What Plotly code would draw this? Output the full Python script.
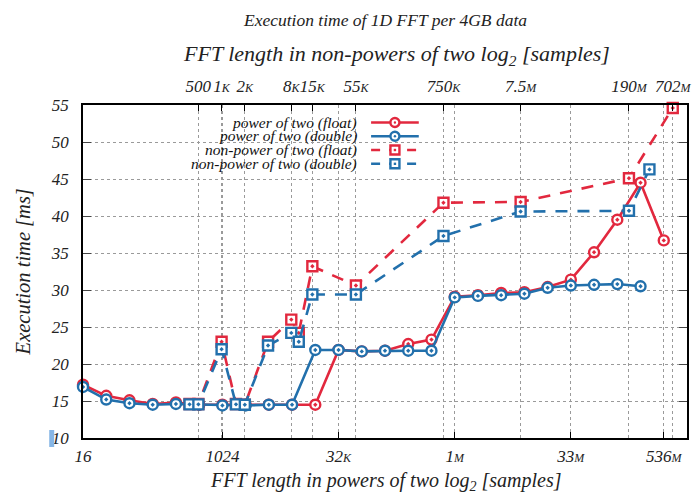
import numpy as np
import plotly.graph_objects as go

# ---------------- data ----------------
pow2_len = [16, 32, 64, 128, 256, 512, 1024, 2048, 4096, 8192, 16384, 32768, 65536,
            131072, 262144, 524288, 1048576, 2097152, 4194304, 8388608, 16777216,
            33554432, 67108864, 134217728, 268435456, 536870912]
pow2_float = [17.2, 15.7, 15.1, 14.6, 14.8, 14.5, 14.5, 14.5, 14.5, 14.5, 14.5, 21.9, 21.7,
              21.8, 22.7, 23.3, 29.1, 29.3, 29.6, 29.7, 30.4, 31.4, 35.1, 39.5, 44.5, 36.7]
pow2_double_len = pow2_len[:25]
pow2_double = [16.9, 15.2, 14.7, 14.5, 14.6, 14.5, 14.4, 14.4, 14.5, 14.5, 21.9, 21.9, 21.7,
               21.8, 21.8, 21.8, 29.0, 29.2, 29.3, 29.5, 30.3, 30.6, 30.7, 30.8, 30.5]

npow_float_len = [384, 500, 1000, 1536, 2000, 4000, 8000, 10000, 15000, 55000, 750000,
                  7500000, 190000000, 702000000]
npow_float = [14.6, 14.6, 23.0, 14.6, 14.5, 23.0, 26.0, 24.2, 33.2, 30.6, 41.8, 41.9, 45.1, 54.6]
npow_double_len = [384, 500, 1000, 1536, 2000, 4000, 8000, 10000, 15000, 55000, 750000,
                   7500000, 190000000, 350000000]
npow_double = [14.55, 14.55, 22.0, 14.55, 14.5, 22.5, 24.2, 23.0, 29.4, 29.4, 37.3, 40.6, 40.7, 46.3]

bottom_tickvals = [16, 1024, 32768, 1048576, 33554432, 536870912]
bottom_ticktext = ["16", "1024", "32K", "1M", "33M", "536M"]
top_tickvals = [500, 1000, 2000, 8000, 15000, 55000, 750000, 7500000, 190000000, 702000000]
top_ticktext = ["500", "1K", "2K", "8K", "15K", "55K", "750K", "7.5M", "190M", "702M"]

series_names = ["power of two (float)", "power of two (double)",
                "non-power of two (float)", "non-power of two (double)"]

# ---------------- style ----------------
RED = "#e2283e"
BLUE = "#2270ac"
FONT = "Liberation Serif, DejaVu Serif, serif"
W, H = 697, 494
L, R, T, B = 83, 6, 105, 56
PW, PH = W - L - R, H - T - B


def px(x):
    return (x - L) / PW


def py(y):
    return (H - B - y) / PH


def small_suffix(t):
    if t[-1] in "KM":
        return t[:-1] + '<span style="font-size:12px">' + t[-1] + "</span>"
    return t


fig = go.Figure()

styles = [
    (pow2_len, pow2_float, RED, "solid", "circle-dot", "x"),
    (pow2_double_len, pow2_double, BLUE, "solid", "circle-dot", "x"),
    (npow_float_len, npow_float, RED, "12px,10px", "square-dot", "x2"),
    (npow_double_len, npow_double, BLUE, "12px,10px", "square-dot", "x2"),
]
for (xs, ys, col, dash, sym, xa), name in zip(styles, series_names):
    fig.add_trace(go.Scatter(
        x=xs, y=ys, name=name, xaxis=xa, yaxis="y", mode="lines+markers",
        line=dict(color=col, width=2.6, dash=dash),
        marker=dict(symbol=sym, size=10, color="white", line=dict(color=col, width=2.4)),
        showlegend=False, cliponaxis=False,
    ))

lr = [np.log10(16) - 1e-4, np.log10(2 ** 30)]
axis_common = dict(
    type="log", range=lr, showline=True, linecolor="black", linewidth=1.5,
    ticks="inside", ticklen=6, tickcolor="black", showgrid=True, gridcolor="#9a9a9a",
    griddash="dot", gridwidth=1, zeroline=False, tickangle=0,
    tickfont=dict(family=FONT, size=17, color="#222", style="italic"),
)
fig.update_layout(
    width=W, height=H, margin=dict(l=L, r=R, t=T, b=B),
    paper_bgcolor="white", plot_bgcolor="white",
    xaxis=dict(**axis_common, tickmode="array", tickvals=bottom_tickvals,
               ticktext=[small_suffix(t) for t in bottom_ticktext], side="bottom",
               mirror=True, ticklabelstandoff=2),
    xaxis2=dict(**axis_common, tickmode="array", tickvals=top_tickvals,
                ticktext=[small_suffix(t) for t in top_ticktext], side="top",
                overlaying="x", anchor="y", ticklabelstandoff=4),
    yaxis=dict(range=[10, 55], dtick=5, tick0=10, showline=True, linecolor="black",
               linewidth=1.5, mirror="ticks", ticks="inside", ticklen=8, tickcolor="#444",
               showgrid=True, gridcolor="#9a9a9a", griddash="dot", gridwidth=1,
               zeroline=False, ticklabelstandoff=9,
               tickfont=dict(family=FONT, size=17, color="#222", style="italic")),
    showlegend=False,
)

# opaque legend box hiding grid lines
shapes = [dict(type="rect", xref="paper", yref="paper", x0=px(85), x1=px(432),
               y0=py(186), y1=py(106), fillcolor="white", line=dict(width=0),
               layer="between")]
# small blue mark next to "10"
shapes.append(dict(type="rect", xref="paper", yref="paper", x0=px(49), x1=px(54),
                   y0=py(447), y1=py(430), fillcolor="#86b6e6", line=dict(width=0),
                   layer="above"))

annotations = []
rows = [122.5, 136.3, 150, 163.8]
for (xs, ys, col, dash, sym, xa), name, ry in zip(styles, series_names, rows):
    annotations.append(dict(xref="paper", yref="paper", x=px(361), y=py(ry),
                            xanchor="right", yanchor="middle", showarrow=False, text=name,
                            font=dict(family=FONT, size=15.5, color="#111", style="italic")))
    d = None if dash == "solid" else "dash"
    shapes.append(dict(type="line", xref="paper", yref="paper", x0=px(373), x1=px(421),
                       y0=py(ry), y1=py(ry), line=dict(color=col, width=2.6, dash=d),
                       layer="above"))
    kind = "circle" if sym.startswith("circle") else "rect"
    shapes.append(dict(type=kind, xref="paper", yref="paper", xsizemode="pixel",
                       ysizemode="pixel", xanchor=px(397), yanchor=py(ry),
                       x0=-4.5, x1=4.5, y0=-4.5, y1=4.5, fillcolor="white",
                       line=dict(color=col, width=2.4), layer="above"))
    shapes.append(dict(type=kind, xref="paper", yref="paper", xsizemode="pixel",
                       ysizemode="pixel", xanchor=px(397), yanchor=py(ry),
                       x0=-1.2, x1=1.2, y0=-1.2, y1=1.2, fillcolor=col,
                       line=dict(width=0), layer="above"))

annotations += [
    dict(xref="paper", yref="paper", x=px(387), y=py(20), showarrow=False,
         text="Execution time of 1D FFT per 4GB data", xanchor="center", yanchor="middle",
         font=dict(family=FONT, size=17.5, color="#222", style="italic")),
    dict(xref="paper", yref="paper", x=px(399), y=py(55), showarrow=False,
         text="FFT length in non-powers of two log<sub>2</sub> [samples]",
         xanchor="center", yanchor="middle",
         font=dict(family=FONT, size=22, color="#222", style="italic")),
    dict(xref="paper", yref="paper", x=px(388), y=py(481), showarrow=False,
         text="FFT length in powers of two log<sub>2</sub> [samples]",
         xanchor="center", yanchor="middle",
         font=dict(family=FONT, size=20, color="#222", style="italic")),
    dict(xref="paper", yref="paper", x=px(23), y=py(272), showarrow=False,
         text="Execution time [ms]", textangle=-90, xanchor="center", yanchor="middle",
         font=dict(family=FONT, size=20.5, color="#222", style="italic")),
]
fig.update_layout(shapes=shapes, annotations=annotations)

fig.write_html("out.html")
